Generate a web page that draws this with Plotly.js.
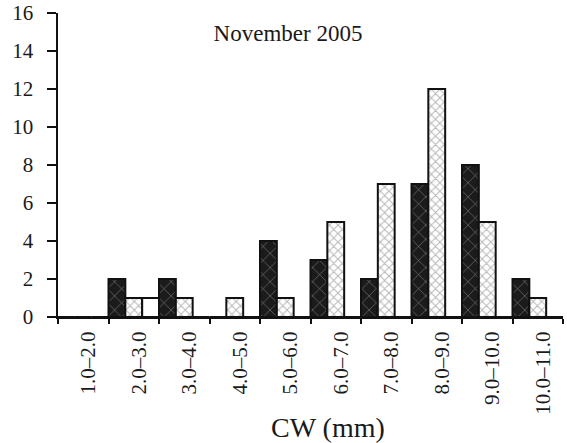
<!DOCTYPE html>
<html>
<head>
<meta charset="utf-8">
<script src="https://cdn.plot.ly/plotly-3.0.1.min.js"></script>
<style>
  html, body { margin: 0; padding: 0; background: #fff; }
  #chart { width: 567px; height: 443px; }
</style>
</head>
<body>
<div id="chart"></div>
<script>
// Carapace-width classes (mm)
const cwClasses = ["1.0–2.0", "2.0–3.0", "3.0–4.0", "4.0–5.0", "5.0–6.0",
                   "6.0–7.0", "7.0–8.0", "8.0–9.0", "9.0–10.0", "10.0–11.0"];

// Counts per class for the three groups
const seriesA = [0, 2, 2, 0, 4, 3, 2, 7, 8, 2];
const seriesB = [0, 1, 1, 1, 1, 5, 7, 12, 5, 1];
const seriesC = [0, 1, 0, 0, 0, 0, 0, 0, 0, 0];

const yTicks = [0, 2, 4, 6, 8, 10, 12, 14, 16];

const serif = "Liberation Serif, Times New Roman, serif";
const outline = { color: "#111", width: 2 };

const traces = [
  {
    type: "bar", name: "Series A", x: cwClasses, y: seriesA,
    marker: {
      color: "#1b1b1b", line: outline,
      pattern: { shape: "x", fillmode: "overlay", bgcolor: "#1b1b1b",
                 fgcolor: "#ffffff", size: 10, solidity: 0.1 }
    }
  },
  {
    type: "bar", name: "Series B", x: cwClasses, y: seriesB,
    marker: {
      color: "#ffffff", line: outline,
      pattern: { shape: "x", fillmode: "overlay", bgcolor: "#ffffff",
                 fgcolor: "#6e6e6e", size: 6, solidity: 0.3 }
    }
  },
  {
    type: "bar", name: "Series C", x: cwClasses, y: seriesC,
    marker: { color: "#ffffff", line: outline }
  }
];

const layout = {
  width: 567, height: 443,
  margin: { l: 58, r: 4, t: 13, b: 126 },
  paper_bgcolor: "#ffffff", plot_bgcolor: "#ffffff",
  showlegend: false,
  barmode: "group", bargap: 0, bargroupgap: 0,
  font: { family: serif, color: "#1a1a1a", size: 20 },
  title: {
    text: "November 2005",
    font: { family: serif, size: 23, color: "#1a1a1a" },
    x: 0.508, xanchor: "center", y: 0.925, yanchor: "middle"
  },
  xaxis: {
    type: "category", range: [-0.5, 9.5],
    tickson: "boundaries", ticks: "outside", ticklen: 5, tickwidth: 2,
    tickcolor: "#111", showline: true, linecolor: "#111", linewidth: 2,
    tickangle: -90, ticklabelshift: 5, ticklabelstandoff: 4,
    tickfont: { family: serif, size: 21, color: "#1a1a1a" },
    showgrid: false, zeroline: false, fixedrange: true
  },
  yaxis: {
    range: [0, 16], tickvals: yTicks, ticktext: yTicks.map(String),
    ticks: "outside", ticklen: 9, tickwidth: 2, tickcolor: "#111",
    showline: true, linecolor: "#111", linewidth: 2.5,
    ticklabelstandoff: 9,
    tickfont: { family: serif, size: 21, color: "#1a1a1a" },
    showgrid: false, zeroline: false, fixedrange: true
  },
  annotations: [{
    text: "CW (mm)", xref: "paper", yref: "paper",
    x: 0.535, y: -0.365, xanchor: "center", yanchor: "middle",
    showarrow: false, font: { family: serif, size: 28, color: "#1a1a1a" }
  }]
};

Plotly.newPlot("chart", traces, layout, { staticPlot: true, displayModeBar: false });
</script>
</body>
</html>
